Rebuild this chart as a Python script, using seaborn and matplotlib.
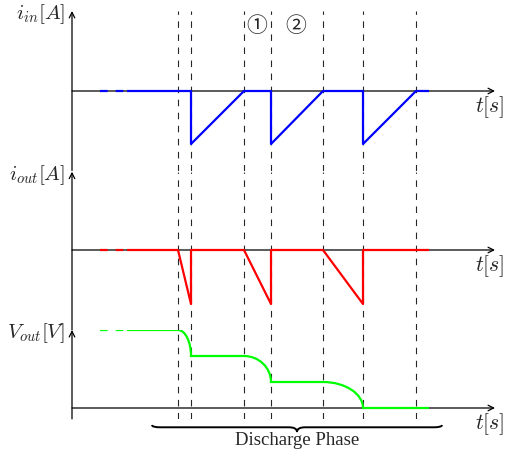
import matplotlib
matplotlib.use("Agg")
import matplotlib.pyplot as plt
from matplotlib.path import Path
from matplotlib.patches import PathPatch
import seaborn as sns

# switching instants (dashed markers)
t_marks = [10.6, 11.9, 17.2, 19.9, 25.1, 29.1, 34.4]
t_lead = [2.8, 5.3]

# input current
iin_t = [5.5, 11.9, 11.9, 17.2, 19.9, 19.9, 25.1, 29.1, 29.1, 34.4, 35.7]
iin_v = [0, 0, -1, 0, 0, -1, 0, 0, -1, 0, 0]

# output current
iout_t = [5.5, 10.6, 11.9, 11.9, 17.2, 19.9, 19.9, 25.1, 29.1, 29.1, 35.7]
iout_v = [0, 0, -1, 0, 0, -1, 0, 0, -1, 0, 0]

# output voltage: levels and the drops between them (start, stop)
vout_levels = [3, 2, 1, 0]
vout_drops = [(10.6, 11.9), (17.2, 19.9), (25.1, 29.1)]
t_start, t_stop = 5.5, 35.7

ylabels = [r"$i_{in}[A]$", r"$i_{out}[A]$", r"$V_{out}[V]$"]

sns.set_theme(style="white")
plt.rcParams["mathtext.fontset"] = "cm"
plt.rcParams["font.family"] = ["Liberation Serif", "DejaVu Serif"]
plt.rcParams["lines.scale_dashes"] = False
plt.rcParams["lines.solid_capstyle"] = "butt"
plt.rcParams["lines.dash_capstyle"] = "butt"

W, H = 508, 452
fig = plt.figure(figsize=(W / 100, H / 100), dpi=100)
fig.patch.set_facecolor("white")

# (ylim, baseline pixel, pixels per unit)
panels = [((-1.5, 1.51), 92, 53), ((-1.48, 1.45), 251, 54), ((-0.42, 3.0), 409, 26)]
xlim = (-7.2, 43.6)
axes = []
for ylim, base, unit in panels:
    top = base - ylim[1] * unit
    bot = base - ylim[0] * unit
    ax = fig.add_axes([0, 1 - bot / H, 1, (bot - top) / H])
    ax.set_xlim(*xlim)
    ax.set_ylim(*ylim)
    ax.axis("off")
    ax.patch.set_alpha(0)
    axes.append(ax)

arrow = dict(arrowstyle="->", color="black", lw=0.9, shrinkA=0, shrinkB=0, mutation_scale=10)
for ax, lab in zip(axes, ylabels):
    y0, y1 = ax.get_ylim()
    ax.annotate("", xy=(0, y1), xytext=(0, y0), arrowprops=arrow)
    ax.annotate("", xy=(42.3, 0), xytext=(0, 0), arrowprops=arrow)
    ax.annotate(lab, xy=(0, y1), xytext=(-5, -1.5), textcoords="offset points",
                ha="right", va="center", fontsize=15)
    ax.annotate(r"$t[s]$", xy=(41.8, 0), xytext=(0, -1.5), textcoords="offset points",
                ha="center", va="top", fontsize=15.5)
    for t in t_marks:
        ax.axvline(t, color="0.15", lw=0.8, ls=(0, (4.7, 4.7)), zorder=1)

lw = 1.6
dash = (0, (5.5, 5.8))
colors = ["#0000ff", "#ff0000", "#00ff00"]
lead_levels = [iin_v[0], iout_v[0], vout_levels[0]]
for ax, c, lv in zip(axes, colors, lead_levels):
    sns.lineplot(x=t_lead, y=[lv, lv], color=c, lw=lw, linestyle=dash, ax=ax,
                 estimator=None, sort=False, zorder=3)

sns.lineplot(x=iin_t, y=iin_v, color=colors[0], lw=lw, ax=axes[0],
             estimator=None, sort=False, zorder=3)
sns.lineplot(x=iout_t, y=iout_v, color=colors[1], lw=lw, ax=axes[1],
             estimator=None, sort=False, zorder=3)

# voltage: flat holds joined by quarter-ellipse drops
k = 0.552
verts = [(t_start, vout_levels[0])]
codes = [Path.MOVETO]
for (a, b), hi, lo in zip(vout_drops, vout_levels[:-1], vout_levels[1:]):
    verts += [(a, hi), (a + k * (b - a), hi), (b, lo + k * (hi - lo)), (b, lo)]
    codes += [Path.LINETO, Path.CURVE4, Path.CURVE4, Path.CURVE4]
verts.append((t_stop, vout_levels[-1]))
codes.append(Path.LINETO)
axes[2].add_patch(PathPatch(Path(verts, codes), fill=False, ec=colors[2], lw=lw, zorder=3,
                            capstyle="butt"))

ax0 = axes[0]
ax0.text(18.5, 1.245, "①", ha="center", va="center", fontsize=15,
         family=["Noto Sans CJK SC", "DejaVu Sans"])
ax0.text(22.4, 1.245, "②", ha="center", va="center", fontsize=15,
         family=["Noto Sans CJK SC", "DejaVu Sans"])

# curly brace under the discharge interval
ax = axes[2]
x0, x1, xm = 8.0, 37.0, 22.5
ye, yl, yt = -0.654, -0.742, -0.923
r = 0.8
bv = [(x0, ye), (x0, yl), (x0 + r, yl), (x0 + r, yl),
      (xm - r, yl), (xm, yl), (xm, yt),
      (xm, yl), (xm + r, yl),
      (x1 - r, yl), (x1, yl), (x1, ye)]
bc = [Path.MOVETO, Path.CURVE3, Path.CURVE3, Path.LINETO,
      Path.LINETO, Path.CURVE3, Path.CURVE3,
      Path.CURVE3, Path.CURVE3,
      Path.LINETO, Path.CURVE3, Path.CURVE3]
ax.add_patch(PathPatch(Path(bv, bc), fill=False, ec="black", lw=1.4, clip_on=False))
ax.text(xm, -1.23, "Discharge Phase", ha="center", va="center", fontsize=13.5)

fig.savefig("out.png", dpi=100)
